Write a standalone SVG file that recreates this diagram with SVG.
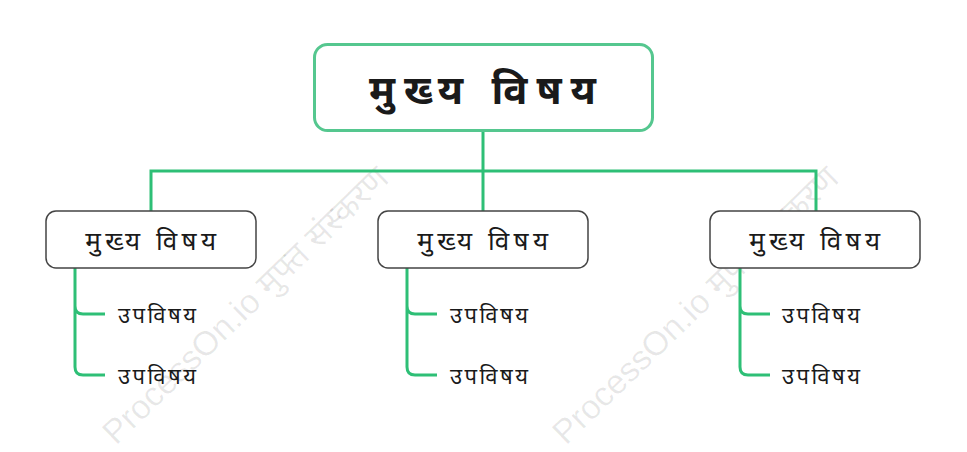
<svg xmlns="http://www.w3.org/2000/svg" width="967" height="452" viewBox="0 0 967 452">
<style>
.root{fill:#fff;stroke:#55c78f;stroke-width:3}
.child{fill:#fff;stroke:#444;stroke-width:1.5}
.ln{fill:none;stroke:#2ebf76;stroke-width:3}
.t{font-family:"Noto Sans","Liberation Sans",sans-serif;fill:#1a1a1a}
.wm{font-family:"Liberation Sans","Noto Sans",sans-serif;fill:#000;fill-opacity:0.09;font-size:34px}
</style>
<rect width="967" height="452" fill="#fff"/>
<g id="watermarks">
<text class="wm" transform="translate(116,446) rotate(-44)">ProcessOn.io मुफ्त संस्करण</text>
<text class="wm" transform="translate(566,446) rotate(-44)">ProcessOn.io मुफ्त संस्करण</text>
</g>
<g id="connectors">
<path class="ln" d="M483,131 V171 M151,211 V171 H816 V211 M483,171 V211"/>
<path class="ln" d="M75,268 V306 Q75,314 83,314 H105 M75,306 V367 Q75,375 83,375 H105"/>
<path class="ln" d="M407,268 V306 Q407,314 415,314 H437 M407,306 V367 Q407,375 415,375 H437"/>
<path class="ln" d="M740,268 V306 Q740,314 748,314 H770 M740,306 V367 Q740,375 748,375 H770"/>
</g>
<g id="root">
<rect class="root" x="314.5" y="44.5" width="338" height="86" rx="13"/>
<text class="t" x="487" y="104" font-size="40" font-weight="bold" text-anchor="middle" letter-spacing="9">मुख्य विषय</text>
</g>
<g id="child1">
<rect class="child" x="46" y="211" width="210" height="57" rx="10"/>
<text class="t" x="153" y="250" font-size="26" text-anchor="middle" letter-spacing="4.5">मुख्य विषय</text>
</g>
<g id="child2">
<rect class="child" x="378" y="211" width="210" height="57" rx="10"/>
<text class="t" x="485" y="250" font-size="26" text-anchor="middle" letter-spacing="4.5">मुख्य विषय</text>
</g>
<g id="child3">
<rect class="child" x="710" y="211" width="210" height="57" rx="10"/>
<text class="t" x="817" y="250" font-size="26" text-anchor="middle" letter-spacing="4.5">मुख्य विषय</text>
</g>
<g id="sub1a"><text class="t" x="118" y="323" font-size="22" letter-spacing="2.5">उपविषय</text></g>
<g id="sub1b"><text class="t" x="118" y="384" font-size="22" letter-spacing="2.5">उपविषय</text></g>
<g id="sub2a"><text class="t" x="450" y="323" font-size="22" letter-spacing="2.5">उपविषय</text></g>
<g id="sub2b"><text class="t" x="450" y="384" font-size="22" letter-spacing="2.5">उपविषय</text></g>
<g id="sub3a"><text class="t" x="782" y="323" font-size="22" letter-spacing="2.5">उपविषय</text></g>
<g id="sub3b"><text class="t" x="782" y="384" font-size="22" letter-spacing="2.5">उपविषय</text></g>
</svg>
